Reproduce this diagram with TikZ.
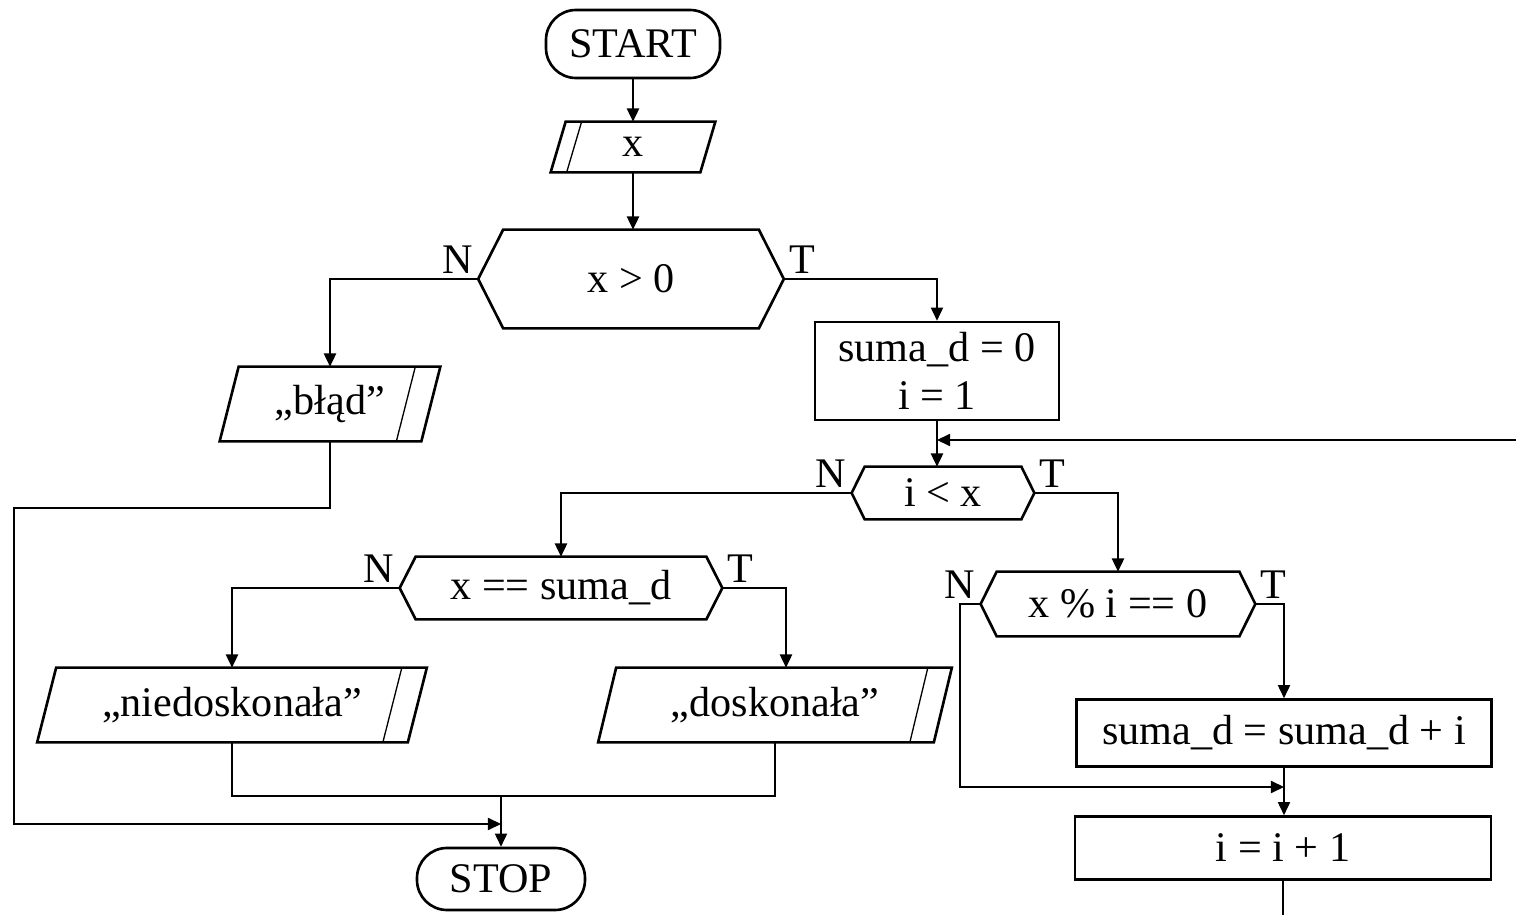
\documentclass[tikz,border=0pt]{standalone}
\usepackage{fontspec}
\setmainfont{Liberation Serif}
\usetikzlibrary{arrows.meta,calc,positioning}

\tikzset{
	txt/.style={font=\fontsize{24}{27}\selectfont, inner sep=0pt},
	sz/.style 2 args={minimum width=#1*0.02cm, minimum height=#2*0.02cm},
	thickline/.style={line width=1.5pt, line join=miter},
	terminal/.style={txt, draw, thickline, rounded corners=0.6cm},
	process/.style={txt, draw, thickline, align=center},
	decision/.style={txt},
	io/.style={txt},
	conn/.style={line width=0.75pt},
	arr/.style={conn, -{Triangle[length=7.5pt,width=7pt]}},
	lbl/.style={font=\fontsize{24}{27}\selectfont, inner sep=3pt}
}

\newcommand{\drawdecision}[2]{
	\draw[thickline] (#1.west) -- ($(#1.north west)+(#2,0)$) -- ($(#1.north east)+(-#2,0)$) -- (#1.east) -- ($(#1.south east)+(-#2,0)$) -- ($(#1.south west)+(#2,0)$) -- cycle;
}
\newcommand{\drawinput}[3]{
	\draw[thickline] ($(#1.north west)+(#2,0)$) -- (#1.north east) -- ($(#1.south east)+(-#2,0)$) -- (#1.south west) -- cycle;
	\draw[conn] ($(#1.north west)+(#2+#3,0)$) -- ($(#1.south west)+(#3,0)$);
}
\newcommand{\drawoutput}[3]{
	\draw[thickline] ($(#1.north west)+(#2,0)$) -- (#1.north east) -- ($(#1.south east)+(-#2,0)$) -- (#1.south west) -- cycle;
	\draw[conn] ($(#1.north east)+(-#3,0)$) -- ($(#1.south east)+(-#2-#3,0)$);
}

\begin{document}
\begin{tikzpicture}[x=0.02cm, y=-0.02cm]
	\useasboundingbox (0,0) rectangle (1516,915);

	\node[terminal, sz={174}{68}] (start) at (633,44) {START};
	\node[io, sz={164}{50}] (in) at (633,147) {x};
	\node[decision, sz={305}{98}] (cond1) at (631,279) {x > 0};
	\node[io, sz={220}{74}] (err) at (330,404) {„błąd”};
	\node[process, sz={244}{98}] (init) at (937,371) {suma\_d = 0\\i = 1};
	\node[decision, sz={182}{52}] (loop) at (943,493) {i < x};
	\node[decision, sz={322}{62}] (cond2) at (561,588) {x == suma\_d};
	\node[decision, sz={274}{64}] (check) at (1118,604) {x \% i == 0};
	\node[io, sz={389}{74}] (no) at (232,705) {„niedoskonała”};
	\node[io, sz={353}{74}] (yes) at (775,705) {„doskonała”};
	\node[process, sz={415}{67}] (sum) at (1284,733) {suma\_d = suma\_d + i};
	\node[process, sz={416}{63}] (inc) at (1283,848) {i = i + 1};
	\node[terminal, sz={168}{62}] (stop) at (501,879) {STOP};

	\drawinput{in}{15}{16}
	\drawdecision{cond1}{25}
	\drawoutput{err}{19}{25}
	\drawdecision{loop}{13}
	\drawdecision{cond2}{16}
	\drawdecision{check}{16}
	\drawoutput{no}{19}{25}
	\drawoutput{yes}{18}{24}

	\node[lbl, anchor=south east] (n1) at (cond1.west) {N};
	\node[lbl, anchor=south west] (t1) at (cond1.east) {T};
	\node[lbl, anchor=south east] (n2) at (loop.west) {N};
	\node[lbl, anchor=south west] (t2) at (loop.east) {T};
	\node[lbl, anchor=south east] (n3) at (cond2.west) {N};
	\node[lbl, anchor=south west] (t3) at (cond2.east) {T};
	\node[lbl, anchor=south east] (n4) at (check.west) {N};
	\node[lbl, anchor=south west] (t4) at (check.east) {T};

	\coordinate (rail) at (14,508);
	\coordinate (railend) at (501,824);
	\coordinate (merge) at (501,796);
	\coordinate (back) at (1516,440);
	\coordinate (skip) at (960,787);
	\coordinate (exit) at (1283,915);

	\draw[arr] (start.south) -- (in.north);
	\draw[arr] (in.south) -- (in.south |- cond1.north);
	\draw[arr] (cond1.west) -| (err.north);
	\draw[arr] (cond1.east) -| (init.north);
	\draw[arr] (err.south) |- (rail) |- (railend);
	\draw[arr] (init.south) -- (init.south |- loop.north);
	\draw[arr] (back) -- (init.south |- back);
	\draw[arr] (loop.west) -| (cond2.north);
	\draw[arr] (loop.east) -| (check.north);
	\draw[arr] (cond2.west) -| (no.north);
	\draw[arr] (cond2.east) -| ($(yes.north)+(11,0)$);
	\draw[conn] (no.south) |- (merge);
	\draw[conn] (yes.south) |- (merge);
	\draw[arr] (merge) -- (stop.north);
	\draw[arr] (check.east) -| (sum.north);
	\draw[arr] (check.west) -| (skip) -- (sum.south |- skip);
	\draw[arr] (sum.south) -- (sum.south |- inc.north);
	\draw[conn] (inc.south) -- (inc.south |- exit);
\end{tikzpicture}
\end{document}
